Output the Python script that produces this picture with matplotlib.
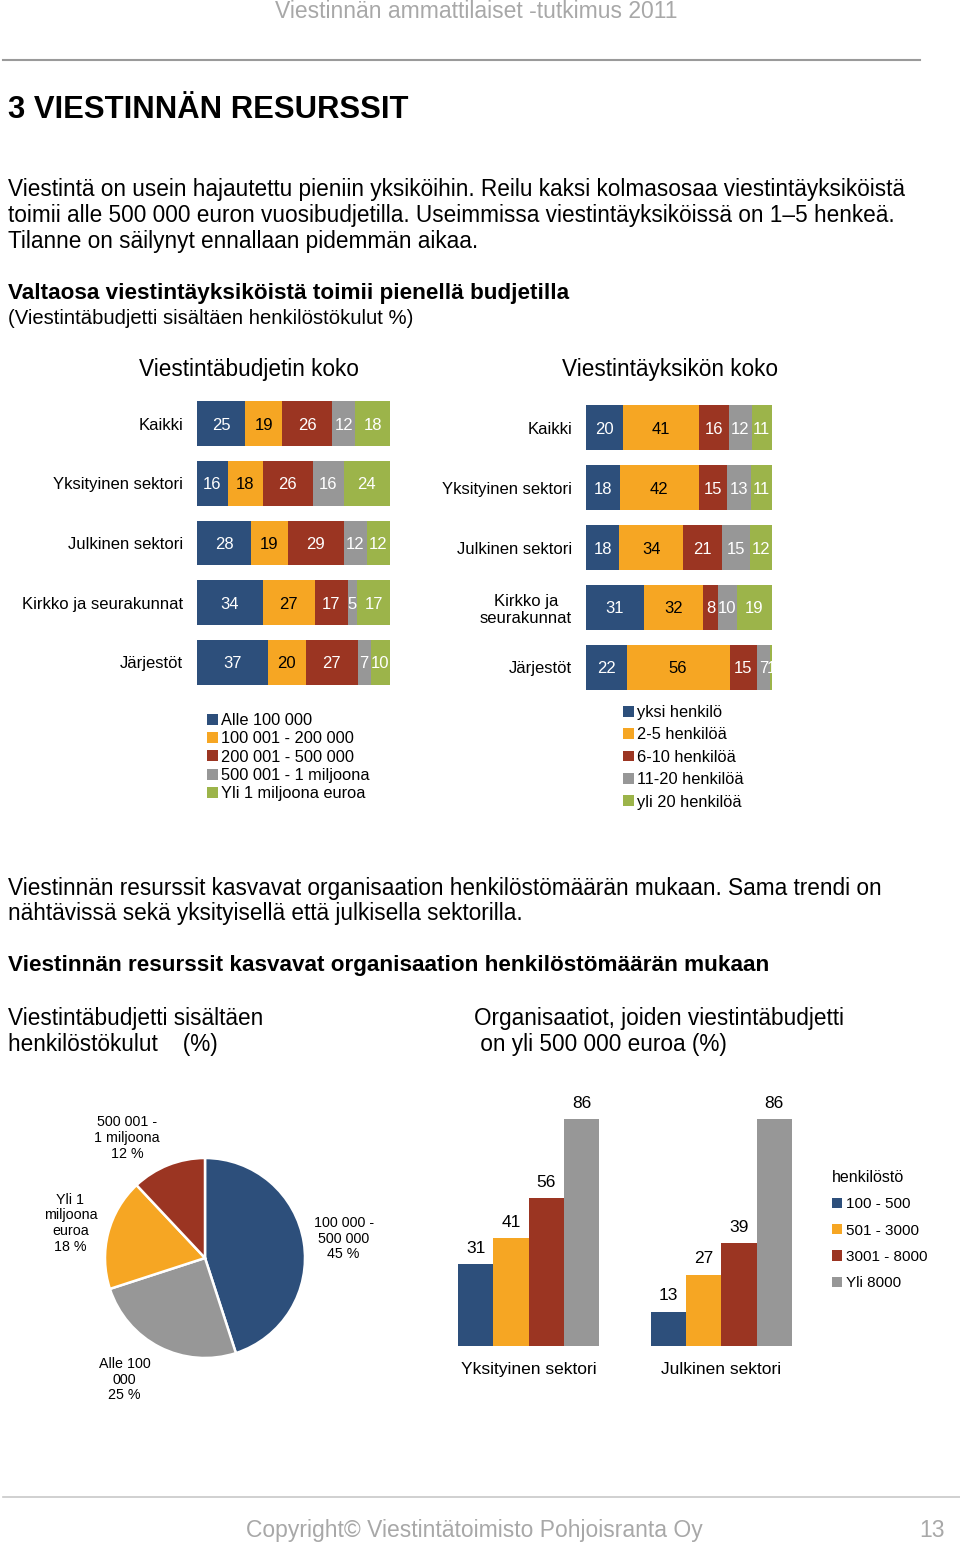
import numpy as np
import matplotlib.pyplot as plt

plt.rcParams['font.family'] = ['Liberation Sans', 'DejaVu Sans']

W, H = 960, 1543

# budjetti (Viestintäbudjetin koko), % per rivi
budget_rows = ['Kaikki', 'Yksityinen sektori', 'Julkinen sektori',
               'Kirkko ja seurakunnat', 'Järjestöt']
budget_classes = ['Alle 100 000', '100 001 - 200 000', '200 001 - 500 000',
                  '500 001 - 1 miljoona', 'Yli 1 miljoona euroa']
budget_vals = [[25, 19, 26, 12, 18],
               [16, 18, 26, 16, 24],
               [28, 19, 29, 12, 12],
               [34, 27, 17, 5, 17],
               [37, 20, 27, 7, 10]]

# viestintäyksikön koko
unit_rows = ['Kaikki', 'Yksityinen sektori', 'Julkinen sektori',
             'Kirkko ja\nseurakunnat', 'Järjestöt']
unit_classes = ['yksi henkilö', '2-5 henkilöä', '6-10 henkilöä',
                '11-20 henkilöä', 'yli 20 henkilöä']
unit_vals = [[20, 41, 16, 12, 11],
             [18, 42, 15, 13, 11],
             [18, 34, 21, 15, 12],
             [31, 32, 8, 10, 19],
             [22, 56, 15, 7, 1]]

# piirakka
pie_labels = ['100 000 -\n500 000\n45 %', 'Alle 100\n000\n25 %',
              'Yli 1\nmiljoona\neuroa\n18 %', '500 001 -\n1 miljoona\n12 %']
pie_vals = [45, 25, 18, 12]
# label placement (distance in radii, angle in degrees)
pie_label_pos = [(1.40, 8), (1.46, -123.5), (1.39, 165.5), (1.43, 123)]

# yli 500 000 euron budjetit henkilöstön mukaan
sectors = ['Yksityinen sektori', 'Julkinen sektori']
staff_classes = ['100 - 500', '501 - 3000', '3001 - 8000', 'Yli 8000']
staff_vals = [[31, 13], [41, 27], [56, 39], [86, 86]]

BLUE, ORANGE, RED, GRAY, GREEN = '#2D4F7B', '#F6A623', '#9B3522', '#979797', '#9CB44A'
colors = [BLUE, ORANGE, RED, GRAY, GREEN]
TXT_GRAY = '#A8A8A8'

fig = plt.figure(figsize=(W / 100, H / 100), dpi=100)


def px_axes(x, y, w, h):
    # pixel box (top-left origin) -> figure axes
    return fig.add_axes([x / W, 1 - (y + h) / H, w / W, h / H])


def ftext(x, y, s, **kw):
    kw.setdefault('va', 'center')
    if kw['va'] == 'center':
        y += 2.5
    return fig.text(x / W, 1 - y / H, s, **kw)


# header / footer
ftext(476, 18, 'Viestinnän ammattilaiset -tutkimus 2011', ha='center', va='baseline',
      fontsize=16.5, color=TXT_GRAY)
fig.add_artist(plt.Line2D([3 / W, 920 / W], [1 - 60 / H, 1 - 60 / H], color='#9A9A9A', lw=1.5))
fig.add_artist(plt.Line2D([3 / W, 960 / W], [1 - 1497 / H, 1 - 1497 / H], color='#C8C8C8', lw=1.2))
ftext(474, 1528, 'Copyright© Viestintätoimisto Pohjoisranta Oy', ha='center',
      fontsize=16.5, color=TXT_GRAY)
ftext(945, 1528, '13', ha='right', fontsize=16.5, color=TXT_GRAY)

ftext(8, 108, '3 VIESTINNÄN RESURSSIT', fontsize=22.3, fontweight='bold')
ftext(8, 187, 'Viestintä on usein hajautettu pieniin yksiköihin. Reilu kaksi kolmasosaa viestintäyksiköistä',
      fontsize=16.3)
ftext(8, 213, 'toimii alle 500 000 euron vuosibudjetilla. Useimmissa viestintäyksiköissä on 1–5 henkeä.',
      fontsize=16.3)
ftext(8, 239, 'Tilanne on säilynyt ennallaan pidemmän aikaa.', fontsize=16.3)
ftext(8, 291, 'Valtaosa viestintäyksiköistä toimii pienellä budjetilla', fontsize=16.2, fontweight='bold')
ftext(8, 316, '(Viestintäbudjetti sisältäen henkilöstökulut %)', fontsize=14.6)
ftext(249, 367, 'Viestintäbudjetin koko', ha='center', fontsize=16.3)
ftext(670, 367, 'Viestintäyksikön koko', ha='center', fontsize=16.3)

ftext(8, 886, 'Viestinnän resurssit kasvavat organisaation henkilöstömäärän mukaan. Sama trendi on',
      fontsize=16.3)
ftext(8, 911, 'nähtävissä sekä yksityisellä että julkisella sektorilla.', fontsize=16.3)
ftext(8, 963, 'Viestinnän resurssit kasvavat organisaation henkilöstömäärän mukaan',
      fontsize=16.2, fontweight='bold')
ftext(8, 1016, 'Viestintäbudjetti sisältäen', fontsize=16.3)
ftext(8, 1042, 'henkilöstökulut    (%)', fontsize=16.3)
ftext(474, 1016, 'Organisaatiot, joiden viestintäbudjetti', fontsize=16.3)
ftext(474, 1042, ' on yli 500 000 euroa (%)', fontsize=16.3)


def stacked(ax, rows, vals, classes, leg_xy, leg_space):
    vals = np.array(vals, float)
    shares = vals / vals.sum(axis=1, keepdims=True) * 100
    y = np.arange(len(rows))
    left = np.zeros(len(rows))
    handles = []
    for j in range(vals.shape[1]):
        b = ax.barh(y, shares[:, j], left=left, height=0.75, color=colors[j], label=classes[j])
        handles.append(b)
        for i in range(len(rows)):
            ax.text(left[i] + shares[i, j] / 2, y[i], '%d' % vals[i, j], ha='center',
                    va='center_baseline', fontsize=12, color='black' if j == 1 else 'white',
                    clip_on=True)
        left += shares[:, j]
    ax.set_xlim(0, 100)
    ax.set_ylim(len(rows) - 0.5, -0.5)
    ax.set_yticks(y, rows, multialignment='center')
    ax.set_xticks([])
    ax.tick_params(length=0, pad=10, labelsize=12)
    for s in ax.spines.values():
        s.set_visible(False)
    fig.legend(handles=handles, loc='upper left',
               bbox_to_anchor=(leg_xy[0] / W, 1 - leg_xy[1] / H), frameon=False,
               fontsize=11.8, handlelength=0.65, handleheight=0.65, handletextpad=0.2,
               labelspacing=leg_space, borderpad=0, borderaxespad=0)


ax1 = px_axes(197, 394, 193, 298)
stacked(ax1, budget_rows, budget_vals, budget_classes, (207, 713), 0.2)
ax2 = px_axes(586, 398, 186, 299)
stacked(ax2, unit_rows, unit_vals, unit_classes, (623, 705), 0.45)

# pie
ax3 = px_axes(80, 1133, 250, 250)
wedges, texts = ax3.pie(pie_vals, labels=pie_labels, colors=[BLUE, GRAY, ORANGE, RED],
                        startangle=90, counterclock=False,
                        wedgeprops=dict(edgecolor='white', linewidth=1.8),
                        textprops=dict(fontsize=10.3, ha='center', va='center', linespacing=1.15))
for t, (d, a) in zip(texts, pie_label_pos):
    t.set_position((d * np.cos(np.radians(a)), d * np.sin(np.radians(a))))
ax3.set_aspect('equal')

# grouped bars
ax4 = px_axes(440, 1090, 370, 256)
x = np.arange(len(sectors))
bw = 0.1828
for k in range(len(staff_classes)):
    b = ax4.bar(x + (k - 1.5) * bw, staff_vals[k], width=bw, color=colors[k], label=staff_classes[k])
    ax4.bar_label(b, padding=6, fontsize=12.5)
ax4.set_xlim((440 - 528.7) / 192.6, (810 - 528.7) / 192.6)
ax4.set_ylim(0, 256 / 2.636)
ax4.set_xticks(x, sectors)
ax4.set_yticks([])
ax4.tick_params(length=0, pad=11.5, labelsize=12.5)
for s in ax4.spines.values():
    s.set_visible(False)
ax4.legend(loc='upper left', bbox_to_anchor=(832 / W, 1 - 1170 / H),
           bbox_transform=fig.transFigure, title='henkilöstö', alignment='left',
           frameon=False, fontsize=11, title_fontsize=11.5, handlelength=0.65,
           handleheight=0.65, handletextpad=0.25, labelspacing=0.8, borderpad=0,
           borderaxespad=0)
leg = ax4.get_legend()
leg._legend_box.sep = 9

fig.savefig('out.png', dpi=100)
